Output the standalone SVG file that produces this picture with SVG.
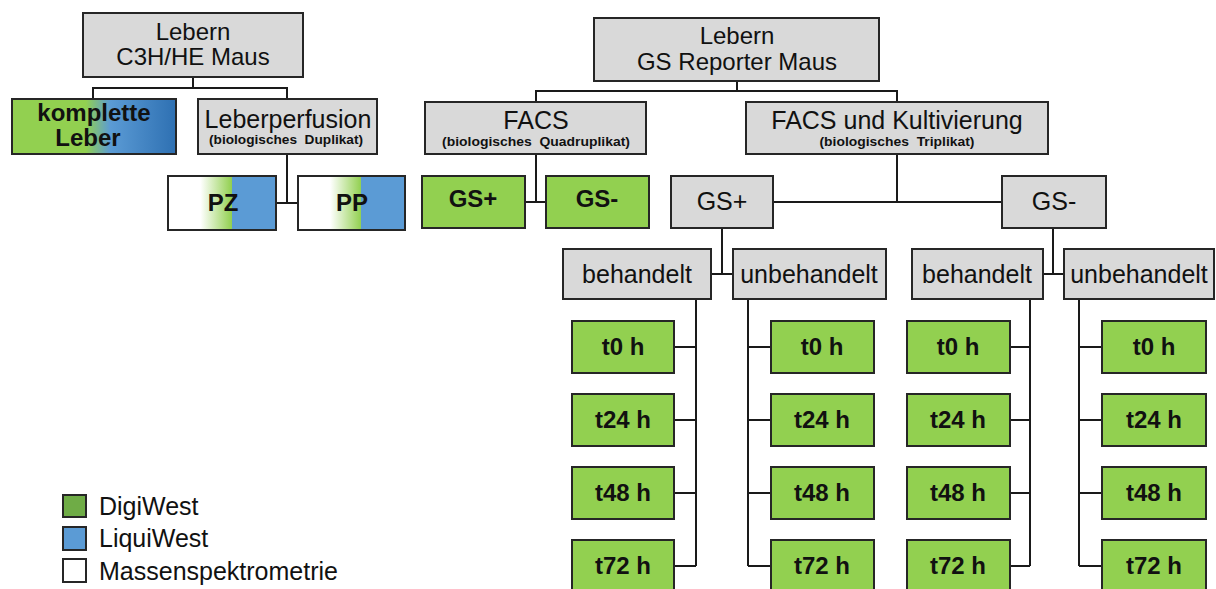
<svg xmlns="http://www.w3.org/2000/svg" width="1216" height="589" viewBox="0 0 1216 589">
<style>
.g{fill:#d9d9d9;stroke:#262626;stroke-width:2}
.gr{fill:#92d050;stroke:#262626;stroke-width:2}
.b{stroke:#262626;stroke-width:2}
text{font-family:"Liberation Sans",Arial,sans-serif;fill:#111;text-anchor:middle}
.n{font-size:25px}
.n2{font-size:24px}
.bd{font-size:24px;font-weight:bold}
.s{font-size:13px;font-weight:bold}
.l{font-size:25px;text-anchor:start}
.c{fill:none;stroke:#1a1a1a;stroke-width:2}
</style>
<defs>
<linearGradient id="kl" x1="0" x2="1" y1="0" y2="0">
<stop offset="0" stop-color="#92d050"/>
<stop offset="0.45" stop-color="#92d050"/>
<stop offset="0.6" stop-color="#5b9bd5"/>
<stop offset="1" stop-color="#2e70b2"/>
</linearGradient>
<linearGradient id="pz" x1="0" x2="1" y1="0" y2="0">
<stop offset="0" stop-color="#ffffff"/>
<stop offset="0.3" stop-color="#ffffff"/>
<stop offset="0.59" stop-color="#92d050"/>
<stop offset="0.59" stop-color="#5b9bd5"/>
<stop offset="1" stop-color="#5b9bd5"/>
</linearGradient>
</defs>
<g id="connectors">
<path class="c" d="M193 77V88M93 99V88H287V99"/>
<path class="c" d="M287 154V203M276 203H298"/>
<path class="c" d="M737 81V91M536 102V91H897V102"/>
<path class="c" d="M536 154V202M525 202H546"/>
<path class="c" d="M897 154V202M773 202H1002"/>
<path class="c" d="M722 228V274M711 274H733"/>
<path class="c" d="M1053 228V274M1043 274H1064"/>
<path class="c" d="M696 299V566M674 347H696M674 420H696M674 493H696M674 566H696"/>
<path class="c" d="M748 299V566M748 347H771M748 420H771M748 493H771M748 566H771"/>
<path class="c" d="M1030 299V566M1010 347H1030M1010 420H1030M1010 493H1030M1010 566H1030"/>
<path class="c" d="M1079 299V566M1079 347H1102M1079 420H1102M1079 493H1102M1079 566H1102"/>
</g>
<g id="n-c3h"><rect class="g" x="83" y="13" width="220" height="64"/><text class="n2" x="193" y="40">Lebern</text><text class="n2" x="193" y="65">C3H/HE Maus</text></g>
<g id="n-komplett"><rect x="12" y="99" width="164" height="55" fill="url(#kl)" class="b"/><text class="bd" x="94" y="121">komplette</text><text class="bd" x="88" y="146">Leber</text></g>
<g id="n-perf"><rect class="g" x="198" y="99" width="179" height="55"/><text class="n" x="288" y="128">Leberperfusion</text><text class="s" x="286" y="144" textLength="154" lengthAdjust="spacingAndGlyphs" xml:space="preserve">(biologisches  Duplikat)</text></g>
<g id="n-pz"><rect x="168" y="176" width="108" height="54" fill="url(#pz)" class="b"/><text class="bd" x="223" y="211">PZ</text></g>
<g id="n-pp"><rect x="298" y="176" width="107" height="54" fill="url(#pz)" class="b"/><text class="bd" x="352" y="211">PP</text></g>
<g id="n-gsrep"><rect class="g" x="594" y="18" width="285" height="63"/><text class="n2" x="737" y="44">Lebern</text><text class="n2" x="737" y="70">GS Reporter Maus</text></g>
<g id="n-facs"><rect class="g" x="425" y="102" width="221" height="52"/><text class="n" x="536" y="129">FACS</text><text class="s" x="536" y="146" textLength="188" lengthAdjust="spacingAndGlyphs" xml:space="preserve">(biologisches  Quadruplikat)</text></g>
<g id="n-facsk"><rect class="g" x="746" y="102" width="302" height="52"/><text class="n" x="897" y="129">FACS und Kultivierung</text><text class="s" x="897" y="146" textLength="155" lengthAdjust="spacingAndGlyphs" xml:space="preserve">(biologisches  Triplikat)</text></g>
<g id="n-gsp1"><rect class="gr" x="422" y="176" width="103" height="52"/><text class="bd" x="473" y="207">GS+</text></g>
<g id="n-gsm1"><rect class="gr" x="546" y="176" width="103" height="52"/><text class="bd" x="597" y="207">GS-</text></g>
<g id="n-gsp2"><rect class="g" x="671" y="176" width="102" height="52"/><text class="n" x="722" y="210">GS+</text></g>
<g id="n-gsm2"><rect class="g" x="1002" y="176" width="104" height="52"/><text class="n" x="1054" y="210">GS-</text></g>
<g id="n-beh1"><rect class="g" x="563" y="249" width="148" height="50"/><text class="n" x="637" y="283">behandelt</text></g>
<g id="n-unb1"><rect class="g" x="733" y="249" width="153" height="50"/><text class="n" x="809" y="283">unbehandelt</text></g>
<g id="n-beh2"><rect class="g" x="912" y="249" width="131" height="50"/><text class="n" x="977" y="283">behandelt</text></g>
<g id="n-unb2"><rect class="g" x="1064" y="249" width="150" height="50"/><text class="n" x="1139" y="283">unbehandelt</text></g>
<g id="n-t-a">
<rect class="gr" x="572" y="321" width="102" height="52"/><text class="bd" x="623" y="355">t0 h</text>
<rect class="gr" x="572" y="394" width="102" height="52"/><text class="bd" x="623" y="428">t24 h</text>
<rect class="gr" x="572" y="467" width="102" height="52"/><text class="bd" x="623" y="501">t48 h</text>
<rect class="gr" x="572" y="540" width="102" height="52"/><text class="bd" x="623" y="574">t72 h</text>
</g>
<g id="n-t-b">
<rect class="gr" x="771" y="321" width="103" height="52"/><text class="bd" x="822" y="355">t0 h</text>
<rect class="gr" x="771" y="394" width="103" height="52"/><text class="bd" x="822" y="428">t24 h</text>
<rect class="gr" x="771" y="467" width="103" height="52"/><text class="bd" x="822" y="501">t48 h</text>
<rect class="gr" x="771" y="540" width="103" height="52"/><text class="bd" x="822" y="574">t72 h</text>
</g>
<g id="n-t-c">
<rect class="gr" x="907" y="321" width="103" height="52"/><text class="bd" x="958" y="355">t0 h</text>
<rect class="gr" x="907" y="394" width="103" height="52"/><text class="bd" x="958" y="428">t24 h</text>
<rect class="gr" x="907" y="467" width="103" height="52"/><text class="bd" x="958" y="501">t48 h</text>
<rect class="gr" x="907" y="540" width="103" height="52"/><text class="bd" x="958" y="574">t72 h</text>
</g>
<g id="n-t-d">
<rect class="gr" x="1102" y="321" width="104" height="52"/><text class="bd" x="1154" y="355">t0 h</text>
<rect class="gr" x="1102" y="394" width="104" height="52"/><text class="bd" x="1154" y="428">t24 h</text>
<rect class="gr" x="1102" y="467" width="104" height="52"/><text class="bd" x="1154" y="501">t48 h</text>
<rect class="gr" x="1102" y="540" width="104" height="52"/><text class="bd" x="1154" y="574">t72 h</text>
</g>
<g id="legend">
<rect x="63" y="495" width="23" height="22" fill="#6fac46" class="b"/><text class="l" x="99" y="515">DigiWest</text>
<rect x="63" y="527" width="23" height="23" fill="#5b9bd5" class="b"/><text class="l" x="99" y="547">LiquiWest</text>
<rect x="63" y="559" width="23" height="23" fill="#ffffff" class="b"/><text class="l" x="99" y="580">Massenspektrometrie</text>
</g>
</svg>
